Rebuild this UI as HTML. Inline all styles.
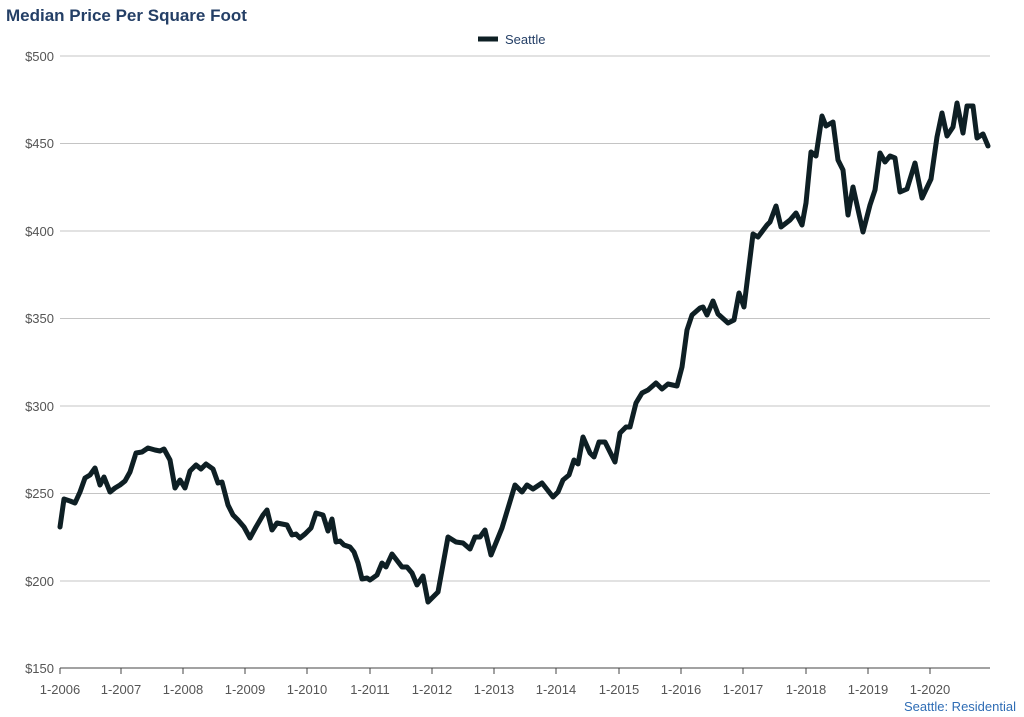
<!DOCTYPE html>
<html><head><meta charset="utf-8"><style>
body{margin:0;background:#fff;}
svg{display:block;font-family:"Liberation Sans",Arial,sans-serif;}
</style></head><body>
<svg width="1024" height="717" viewBox="0 0 1024 717">
<text x="6" y="21" font-size="17" font-weight="bold" fill="#243f66">Median Price Per Square Foot</text>
<line x1="478" y1="39" x2="498" y2="39" stroke="#0e1f24" stroke-width="5"/>
<text x="505" y="44" font-size="13" fill="#243f66">Seattle</text>
<g stroke="#c4c4c4" stroke-width="1">
<line x1="60" y1="56" x2="990" y2="56"/>
<line x1="60" y1="143.5" x2="990" y2="143.5"/>
<line x1="60" y1="231" x2="990" y2="231"/>
<line x1="60" y1="318.5" x2="990" y2="318.5"/>
<line x1="60" y1="406" x2="990" y2="406"/>
<line x1="60" y1="493.5" x2="990" y2="493.5"/>
<line x1="60" y1="581" x2="990" y2="581"/>
</g>
<line x1="60" y1="668" x2="990" y2="668" stroke="#444" stroke-width="1"/>
<g stroke="#444" stroke-width="1">
<line x1="60" y1="668" x2="60" y2="674"/><line x1="121" y1="668" x2="121" y2="674"/><line x1="183" y1="668" x2="183" y2="674"/><line x1="245" y1="668" x2="245" y2="674"/><line x1="307" y1="668" x2="307" y2="674"/><line x1="370" y1="668" x2="370" y2="674"/><line x1="432" y1="668" x2="432" y2="674"/><line x1="494" y1="668" x2="494" y2="674"/><line x1="556" y1="668" x2="556" y2="674"/><line x1="619" y1="668" x2="619" y2="674"/><line x1="681" y1="668" x2="681" y2="674"/><line x1="743" y1="668" x2="743" y2="674"/><line x1="806" y1="668" x2="806" y2="674"/><line x1="868" y1="668" x2="868" y2="674"/><line x1="930" y1="668" x2="930" y2="674"/>
</g>
<g font-size="13" fill="#555" text-anchor="end">
<text x="54" y="61">$500</text><text x="54" y="148">$450</text><text x="54" y="236">$400</text><text x="54" y="323">$350</text><text x="54" y="411">$300</text><text x="54" y="498">$250</text><text x="54" y="586">$200</text><text x="54" y="673">$150</text>
</g>
<g font-size="13" fill="#555" text-anchor="middle">
<text x="60" y="694">1-2006</text><text x="121" y="694">1-2007</text><text x="183" y="694">1-2008</text><text x="245" y="694">1-2009</text><text x="307" y="694">1-2010</text><text x="370" y="694">1-2011</text><text x="432" y="694">1-2012</text><text x="494" y="694">1-2013</text><text x="556" y="694">1-2014</text><text x="619" y="694">1-2015</text><text x="681" y="694">1-2016</text><text x="743" y="694">1-2017</text><text x="806" y="694">1-2018</text><text x="868" y="694">1-2019</text><text x="930" y="694">1-2020</text>
</g>
<text x="1016" y="711" font-size="13" fill="#2f6db5" text-anchor="end">Seattle: Residential</text>
<polyline fill="none" stroke="#0e1f24" stroke-width="5" stroke-linejoin="round" stroke-linecap="round" points="60,527 64,499 70,501 75,503 80,492 85,478 90,475 95,468 100,485 104,477 110,492 115,488 120,485 125,481 130,472 136,453 142,452 148,448 155,450 160,451 164,449 170,460 175,488 180,480 185,488 190,471 196,465 201,469 206,464 213,469 218,483 222,482 228,505 233,515 238,520 244,527 250,538 256,527 263,515 267,510 272,530 277,523 287,525 292,535 296,534 300,538 305,534 311,528 316,513 323,515 328,531 332,519 336,542 340,541 344,545 350,547 354,552 358,563 362,579 367,578 370,580 377,575 382,563 386,567 392,554 402,567 407,567 412,573 417,585 423,576 428,602 438,592 448,537 456,542 463,543 470,549 475,537 480,537 485,530 491,555 502,528 515,485 522,492 527,485 533,489 542,483 553,497 558,492 563,480 569,475 574,460 578,464 583,437 590,453 594,457 599,442 605,442 615,462 620,433 626,427 630,427 636,403 642,393 648,390 656,383 662,389 668,384 677,386 682,367 687,330 692,315 700,308 703,307 707,315 713,301 718,314 728,323 734,320 739,293 744,307 753,234 758,237 767,225 770,222 776,206 781,227 790,220 796,213 802,225 806,203 811,152 816,156 822,116 826,126 833,122 838,160 843,170 848,215 853,187 863,232 870,205 875,190 880,153 885,162 890,156 895,158 900,192 907,189 915,163 922,198 931,179 937,137 942,113 947,136 953,127 957,103 963,133 967,106 973,106 977,138 983,134 988,146"/>
</svg>
</body></html>
